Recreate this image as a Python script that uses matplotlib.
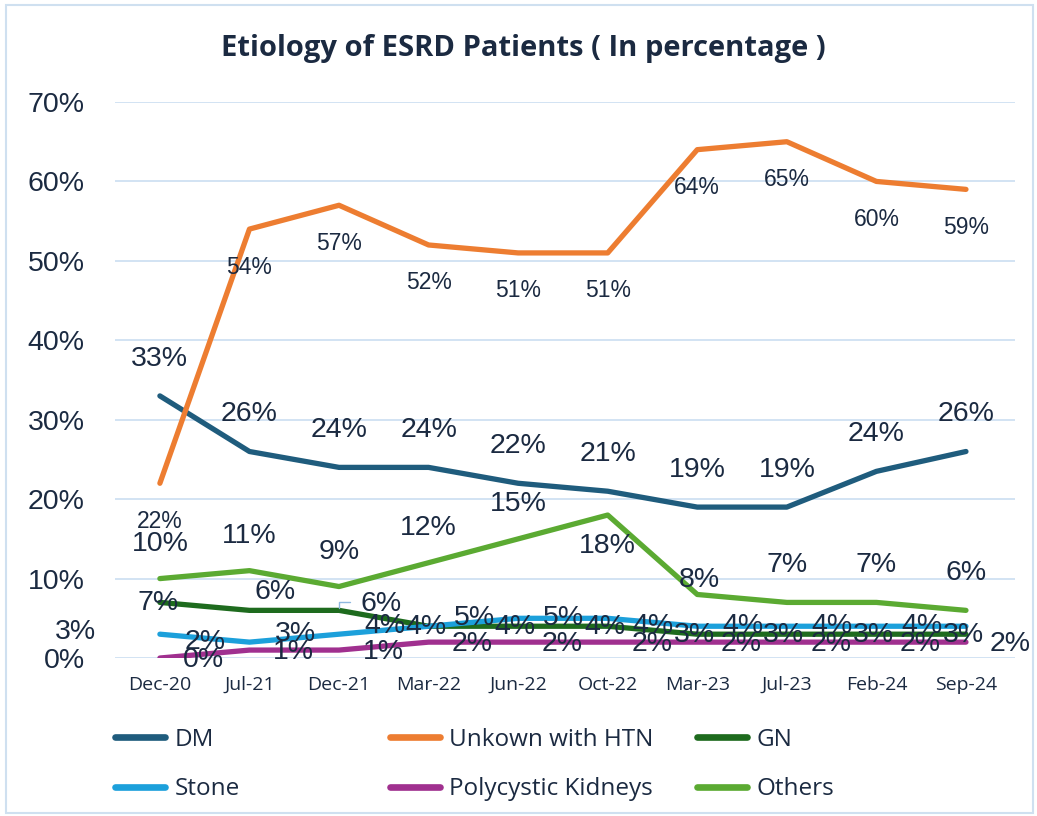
import matplotlib.pyplot as plt
from matplotlib.patches import Rectangle

months = ['Dec-20', 'Jul-21', 'Dec-21', 'Mar-22', 'Jun-22', 'Oct-22',
          'Mar-23', 'Jul-23', 'Feb-24', 'Sep-24']
dm = [33, 26, 24, 24, 22, 21, 19, 19, 23.5, 26]
dm_lbl = [33, 26, 24, 24, 22, 21, 19, 19, 24, 26]
htn = [22, 54, 57, 52, 51, 51, 64, 65, 60, 59]
gn = [7, 6, 6, 4, 4, 4, 3, 3, 3, 3]
stone = [3, 2, 3, 4, 5, 5, 4, 4, 4, 4]
pkd = [0, 1, 1, 2, 2, 2, 2, 2, 2, 2]
others = [10, 11, 9, 12, 15, 18, 8, 7, 7, 6]

txt = '#1B2A41'
num_font = ['Liberation Sans', 'DejaVu Sans']
plt.rcParams['font.family'] = ['Open Sans', 'DejaVu Sans']

fig = plt.figure(figsize=(10.37, 8.16), dpi=100)
fig.patches.append(Rectangle((0.006, 0.004), 0.99, 0.99, transform=fig.transFigure,
                             fill=False, edgecolor='#CFE0F0', linewidth=1.5))
ax = fig.add_axes([0.111, 0.1936, 0.868, 0.6814])
x = list(range(len(months)))

series = [
    ('DM', dm, '#1F5C7D'),
    ('Unkown with HTN', htn, '#ED7D31'),
    ('GN', gn, '#1E6B1E'),
    ('Stone', stone, '#1CA0DB'),
    ('Polycystic Kidneys', pkd, '#A0308F'),
    ('Others', others, '#5BAA32'),
]
lines = {}
for name, vals, col in series:
    ln, = ax.plot(x, vals, color=col, lw=3.8, solid_capstyle='round',
                  solid_joinstyle='round', label=name)
    lines[name] = ln

def lab(vals, shown, offs, fs=20.5):
    for i, (v, s) in enumerate(zip(vals, shown)):
        dx, dy = offs[i] if isinstance(offs, list) else offs
        ax.annotate(f'{s:g}%', (i, v), xytext=(dx, dy), textcoords='offset pixels',
                    ha='center', va='center', fontsize=fs, color=txt,
                    family=num_font, annotation_clip=False)

lab(dm, dm_lbl, (0, 37))
lab(htn, htn, (0, -38), fs=16.5)
others_off = [(0, 35)] * 5 + [(0, -31), (2, 14), (0, 37), (0, 37), (0, 37)]
lab(others, others, others_off)
gn_off = [(-2, -1), (26, 18), (42, 6)] + [(-3, -1)] * 7
lab(gn, gn, gn_off)
lab(stone, stone, [(-84, 2)] + [(-44, 0)] * 9)
lab(pkd, pkd, (44, -2))

# small leader line for the GN Dec-21 label
ax.annotate('', (2, gn[2]), xytext=(14, 8), textcoords='offset pixels',
            arrowprops=dict(arrowstyle='-', color='#8FB8E0', lw=1,
                            connectionstyle='angle,angleA=0,angleB=90,rad=0'))

ax.set_xlim(-0.5, 9.55)
ax.set_ylim(0, 70)
ax.set_yticks(range(0, 71, 10))
ax.set_yticklabels([f'{t}%' for t in range(0, 71, 10)], family=num_font)
ax.set_xticks(x)
ax.set_xticklabels(months)
ax.tick_params(axis='y', labelsize=20.5, colors=txt, length=0, pad=22)
ax.tick_params(axis='x', labelsize=14, colors=txt, length=0, pad=13)
ax.grid(axis='y', color='#CFE0F2', lw=1.3)
ax.set_axisbelow(True)
for s in ax.spines.values():
    s.set_visible(False)

fig.text(0.505, 0.941, 'Etiology of ESRD Patients ( In percentage )', ha='center',
         va='center', fontsize=21, fontweight='bold', color=txt)

cols = [(['DM', 'Stone'], 0.111), (['Unkown with HTN', 'Polycystic Kidneys'], 0.376),
        (['GN', 'Others'], 0.672)]
for names, xp in cols:
    leg = fig.legend([lines[n] for n in names], names, loc='upper left',
                     bbox_to_anchor=(xp, 0.108), frameon=False, fontsize=17.5,
                     handlelength=2.05, handletextpad=0.4, labelspacing=1.05,
                     borderpad=0, borderaxespad=0, labelcolor=txt)
    for h in leg.legend_handles:
        h.set_linewidth(4.8)

fig.savefig('out.png', dpi=100)
